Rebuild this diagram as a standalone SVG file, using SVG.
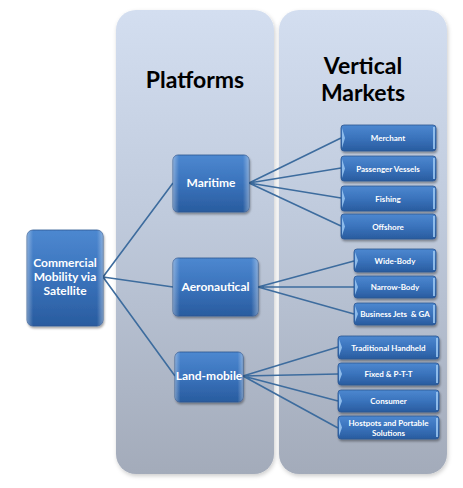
<svg xmlns="http://www.w3.org/2000/svg" width="463" height="488" viewBox="0 0 463 488">
<defs>
<linearGradient id="panel" x1="0" y1="0" x2="0" y2="1">
<stop offset="0" stop-color="#d3def0"/>
<stop offset="0.45" stop-color="#bfcadc"/>
<stop offset="1" stop-color="#a3abba"/>
</linearGradient>
<linearGradient id="node" x1="0" y1="0" x2="0" y2="1">
<stop offset="0" stop-color="#4d88d0"/>
<stop offset="0.5" stop-color="#3a73bc"/>
<stop offset="1" stop-color="#295c9f"/>
</linearGradient>
<linearGradient id="edge" x1="0" y1="0" x2="1" y2="0">
<stop offset="0" stop-color="#ffffff" stop-opacity="0.35"/>
<stop offset="0.08" stop-color="#ffffff" stop-opacity="0"/>
<stop offset="0.92" stop-color="#ffffff" stop-opacity="0"/>
<stop offset="1" stop-color="#ffffff" stop-opacity="0.35"/>
</linearGradient>
<filter id="sh" x="-20%" y="-20%" width="140%" height="150%">
<feDropShadow dx="1" dy="2" stdDeviation="1.2" flood-color="#000" flood-opacity="0.35"/>
</filter>
<filter id="psh" x="-10%" y="-10%" width="120%" height="120%">
<feDropShadow dx="1" dy="2" stdDeviation="2" flood-color="#000" flood-opacity="0.2"/>
</filter>
</defs>
<style>
.panel{fill:url(#panel);filter:url(#psh)}
.box{fill:url(#node);stroke:#2c5590;stroke-width:0.8;filter:url(#sh)}
.hl{fill:url(#edge)}
.tab{fill:#9cc8f2;opacity:0.85}
.big{font-family:Lato,"Liberation Sans",sans-serif;font-weight:bold;font-size:12px;fill:#fff;text-anchor:middle}
.sm{font-family:Lato,"Liberation Sans",sans-serif;font-weight:bold;font-size:8px;fill:#fff;text-anchor:middle}
.head{font-family:Lato,"Liberation Sans",sans-serif;font-weight:bold;font-size:23px;fill:#000;text-anchor:middle}
.conn{stroke:#3d6c9e;stroke-width:1.6;fill:none}
</style>
<g id="panels">
<rect class="panel" x="116" y="10" width="158" height="464" rx="20"/>
<rect class="panel" x="279" y="10" width="168" height="464" rx="20"/>
<text class="head" x="195" y="88">Platforms</text>
<text class="head" x="363" y="74">Vertical</text>
<text class="head" x="363" y="101">Markets</text>
</g>
<g id="connectors">
<path class="conn" d="M103 277L173 183M103 277L173 287M103 277L175 376"/>
<path class="conn" d="M249 183L341 138M249 183L341 168M249 183L341 198M249 183L341 226"/>
<path class="conn" d="M258 287L354 261M258 287L354 287M258 287L354 314"/>
<path class="conn" d="M243 376L338 347M243 376L338 374M243 376L338 401M243 376L338 428"/>
</g>
<g id="root">
<rect class="box" x="27" y="230" width="76" height="96" rx="6"/>
<rect class="hl" x="27" y="230" width="76" height="96" rx="6"/>
<text class="big" x="65" y="267">Commercial</text>
<text class="big" x="65" y="281">Mobility via</text>
<text class="big" x="65" y="295">Satellite</text>
</g>
<g id="maritime">
<rect class="box" x="173" y="155" width="76" height="57" rx="5"/>
<rect class="hl" x="173" y="155" width="76" height="57" rx="5"/>
<text class="big" x="211" y="187">Maritime</text>
</g>
<g id="aeronautical">
<rect class="box" x="173" y="258" width="85" height="58" rx="5"/>
<rect class="hl" x="173" y="258" width="85" height="58" rx="5"/>
<text class="big" x="215.5" y="291">Aeronautical</text>
</g>
<g id="landmobile">
<rect class="box" x="175" y="352" width="68" height="50" rx="5"/>
<rect class="hl" x="175" y="352" width="68" height="50" rx="5"/>
<text class="big" x="209" y="380">Land-mobile</text>
</g>
<g id="merchant">
<rect class="box" x="341" y="125" width="95" height="26" rx="3"/>
<path class="tab" d="M342 128L345 138L342 148Z"/><rect class="tab" x="433" y="127" width="2" height="22"/>
<text class="sm" x="388" y="141">Merchant</text>
</g>
<g id="passenger">
<rect class="box" x="341" y="156" width="95" height="25" rx="3"/>
<path class="tab" d="M342 159L345 168.5L342 178Z"/><rect class="tab" x="433" y="158" width="2" height="21"/>
<text class="sm" x="388" y="171.5">Passenger Vessels</text>
</g>
<g id="fishing">
<rect class="box" x="341" y="186" width="95" height="25" rx="3"/>
<path class="tab" d="M342 189L345 198.5L342 208Z"/><rect class="tab" x="433" y="188" width="2" height="21"/>
<text class="sm" x="388" y="201.5">Fishing</text>
</g>
<g id="offshore">
<rect class="box" x="341" y="214" width="95" height="25" rx="3"/>
<path class="tab" d="M342 217L345 226.5L342 236Z"/><rect class="tab" x="433" y="216" width="2" height="21"/>
<text class="sm" x="388" y="229.5">Offshore</text>
</g>
<g id="widebody">
<rect class="box" x="354" y="249" width="82" height="23" rx="3"/>
<path class="tab" d="M355 252L358 260.5L355 269Z"/><rect class="tab" x="433" y="251" width="2" height="19"/>
<text class="sm" x="395" y="263.5">Wide-Body</text>
</g>
<g id="narrowbody">
<rect class="box" x="354" y="276" width="82" height="22" rx="3"/>
<path class="tab" d="M355 279L358 287L355 295Z"/><rect class="tab" x="433" y="278" width="2" height="18"/>
<text class="sm" x="395" y="290">Narrow-Body</text>
</g>
<g id="bizjets">
<rect class="box" x="354" y="303" width="82" height="22" rx="3"/>
<path class="tab" d="M355 306L358 314L355 322Z"/><rect class="tab" x="433" y="305" width="2" height="18"/>
<text class="sm" x="395" y="317" xml:space="preserve">Business Jets  &amp; GA</text>
</g>
<g id="handheld">
<rect class="box" x="338" y="336" width="101" height="23" rx="3"/>
<path class="tab" d="M339 339L342 347.5L339 356Z"/><rect class="tab" x="436" y="338" width="2" height="19"/>
<text class="sm" x="388.5" y="350.5">Traditional Handheld</text>
</g>
<g id="fixed">
<rect class="box" x="338" y="363" width="101" height="22" rx="3"/>
<path class="tab" d="M339 366L342 374L339 382Z"/><rect class="tab" x="436" y="365" width="2" height="18"/>
<text class="sm" x="388.5" y="377">Fixed &amp; P-T-T</text>
</g>
<g id="consumer">
<rect class="box" x="338" y="390" width="101" height="22" rx="3"/>
<path class="tab" d="M339 393L342 401L339 409Z"/><rect class="tab" x="436" y="392" width="2" height="18"/>
<text class="sm" x="388.5" y="404">Consumer</text>
</g>
<g id="hotspots">
<rect class="box" x="338" y="416" width="101" height="23" rx="3"/>
<path class="tab" d="M339 419L342 427.5L339 436Z"/><rect class="tab" x="436" y="418" width="2" height="19"/>
<text class="sm" x="388.5" y="426">Hostpots and Portable</text>
<text class="sm" x="388.5" y="435.5">Solutions</text>
</g>
</svg>
